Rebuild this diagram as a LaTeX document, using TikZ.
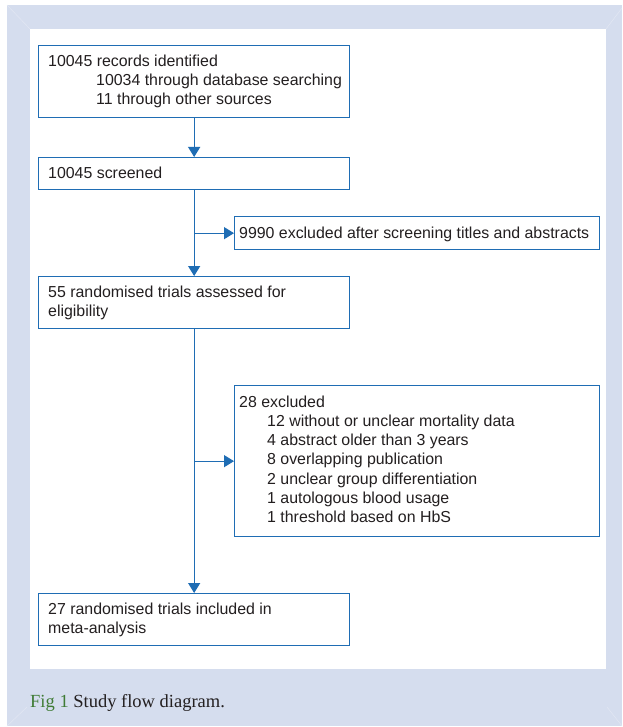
\documentclass[tikz,border=0pt]{standalone}
\usepackage{fontspec}
\setmainfont{Liberation Sans}
\newfontfamily\capfont{Liberation Serif}
\usetikzlibrary{arrows.meta}
\definecolor{bgblue}{HTML}{D5DDEE}
\definecolor{bevel}{HTML}{E2E7F3}
\definecolor{lineblue}{HTML}{1F6DB4}
\definecolor{txt}{HTML}{231F20}
\definecolor{capgreen}{HTML}{3F7B35}
\begin{document}
\begin{tikzpicture}[x=1pt,y=-1pt,
 boxstyle/.style={draw=lineblue,line width=1.3pt,rectangle,inner sep=0pt,anchor=north west},
 txtstyle/.style={anchor=base west,inner sep=0pt,text=txt,font=\fontsize{15.9}{19}\selectfont},
 flow/.style={draw=lineblue,line width=1.3pt,-{Triangle[width=12pt,length=10pt]}}]
\useasboundingbox (0,0) rectangle (622,727);
\fill[bgblue] (7,5) rectangle (622,726);
\fill[white] (30,29) rectangle (606,669);
\draw[bevel,line width=0.5pt] (7,5) -- (30,29) (622,8) -- (606,29) (7,726) -- (27,707) (622,726) -- (607,707);
% boxes
\node[boxstyle,minimum width=311pt,minimum height=72pt] (b1) at (38,45) {};
\node[boxstyle,minimum width=311pt,minimum height=32pt] (b2) at (38,157) {};
\node[boxstyle,minimum width=365pt,minimum height=33pt] (b3) at (234,216) {};
\node[boxstyle,minimum width=311pt,minimum height=52pt] (b4) at (38,276) {};
\node[boxstyle,minimum width=365pt,minimum height=151pt] (b5) at (234,385) {};
\node[boxstyle,minimum width=311pt,minimum height=52pt] (b6) at (38,593) {};
% texts
\node[txtstyle] (t1a) at (48,67) {10045 records identified};
\node[txtstyle] (t1b) at (96,86) {10034 through database searching};
\node[txtstyle] (t1c) at (96,105) {11 through other sources};
\node[txtstyle] (t2) at (48,179) {10045 screened};
\node[txtstyle] (t3) at (239,238) {9990 excluded after screening titles and abstracts};
\node[txtstyle] (t4a) at (48,297) {55 randomised trials assessed for};
\node[txtstyle] (t4b) at (48,316) {eligibility};
\node[txtstyle] (t5a) at (239,407) {28 excluded};
\node[txtstyle] (t5b) at (267,426.3) {12 without or unclear mortality data};
\node[txtstyle] (t5c) at (267,445.6) {4 abstract older than 3 years};
\node[txtstyle] (t5d) at (267,464.9) {8 overlapping publication};
\node[txtstyle] (t5e) at (267,484.2) {2 unclear group differentiation};
\node[txtstyle] (t5f) at (267,503.5) {1 autologous blood usage};
\node[txtstyle] (t5g) at (267,522.8) {1 threshold based on HbS};
\node[txtstyle] (t6a) at (48,614) {27 randomised trials included in};
\node[txtstyle] (t6b) at (48,633) {meta-analysis};
% caption
\node[anchor=base west,inner sep=0pt,text=txt,font=\capfont\fontsize{18.5}{22}\selectfont] (cap) at (30,707) {\textcolor{capgreen}{Fig 1} Study flow diagram.};
% connectors
\draw[flow] (b1.south) -- (b2.north);
\draw[flow] (b2.south) -- (b4.north);
\draw[flow] (b2.south |- b3.west) -- (b3.west);
\draw[flow] (b4.south) -- (b6.north);
\draw[flow] (b4.south |- b5.west) -- (b5.west);
\end{tikzpicture}
\end{document}
